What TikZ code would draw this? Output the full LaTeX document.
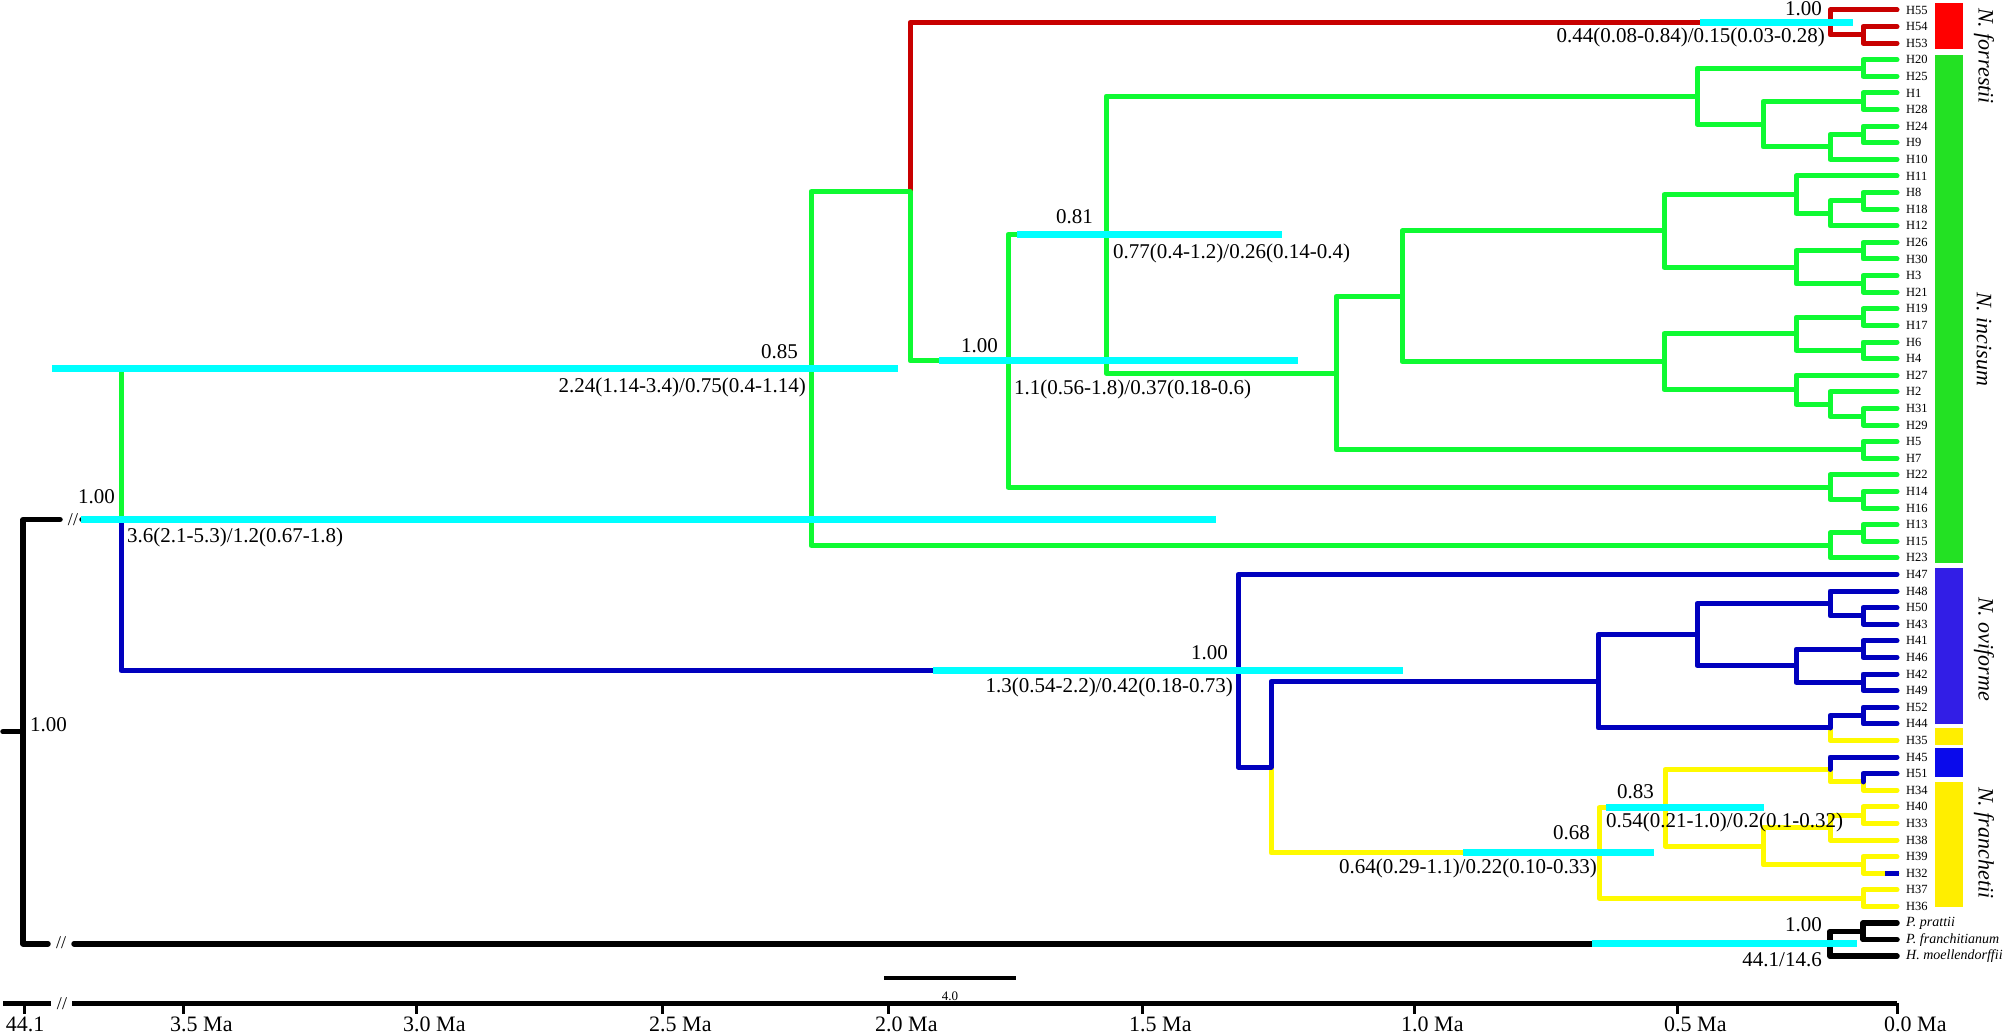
\documentclass[tikz,border=0pt]{standalone}
\usepackage{fontspec}
\setmainfont{Liberation Serif}
\definecolor{tred}{RGB}{200,0,0}
\definecolor{tgreen}{RGB}{15,250,50}
\definecolor{tblue}{RGB}{0,0,190}
\definecolor{tyellow}{RGB}{255,250,0}
\definecolor{hpdcyan}{RGB}{0,255,255}
\definecolor{bred}{RGB}{255,0,0}
\definecolor{bgreen}{RGB}{35,225,35}
\definecolor{bblue}{RGB}{50,30,230}
\definecolor{bblue2}{RGB}{10,10,235}
\definecolor{byellow}{RGB}{255,238,0}
\tikzset{
 br/.style={line width=5pt, line cap=round, line join=round},
 rb/.style={br, draw=tred},
 gb/.style={br, draw=tgreen},
 bb/.style={br, draw=tblue},
 yb/.style={br, draw=tyellow},
 kb/.style={br, draw=black, line width=5.5pt},
 hpd/.style={draw=hpdcyan, line width=7pt, line cap=butt},
 lab/.style={font=\fontsize{21}{24}\selectfont, inner sep=0pt},
 tiplab/.style={font=\fontsize{12.5}{14}\selectfont, inner sep=0pt, anchor=west},
 ogl/.style={inner sep=0pt, anchor=west, font=\fontsize{14}{16}\selectfont\itshape},
 clade/.style={font=\fontsize{22}{24}\selectfont\itshape, inner sep=0pt, rotate=-90, anchor=west},
 axl/.style={font=\fontsize{22}{24}\selectfont, inner sep=0pt},
 brk/.style={font=\fontsize{18}{20}\selectfont, inner sep=0pt},
}
\begin{document}
\begin{tikzpicture}[x=1pt,y=-1pt]
\fill[white] (0,0) rectangle (2006,1035);
\useasboundingbox (0,0) rectangle (2006,1035);

% tips
\foreach \nm [count=\i from 0] in {H55,H54,H53,H20,H25,H1,H28,H24,H9,H10,H11,H8,H18,H12,H26,H30,H3,H21,H19,H17,H6,H4,H27,H2,H31,H29,H5,H7,H22,H14,H16,H13,H15,H23,H47,H48,H50,H43,H41,H46,H42,H49,H52,H44,H35,H45,H51,H34,H40,H33,H38,H39,H32,H37,H36}{
  \coordinate (\nm) at (1897,{10+16.6*\i});
  \node[tiplab] (\nm-l) at (1906,{10+16.6*\i}) {\nm};
}
\coordinate (Pp) at (1897,923.0);
\coordinate (Pf) at (1897,939.6);
\coordinate (Hm) at (1897,956.2);
\node[ogl] (Pp-l) at (1906,923.0) {P. prattii};
\node[ogl] (Pf-l) at (1906,939.6) {P. franchitianum};
\node[ogl] (Hm-l) at (1906,956.2) {H. moellendorffii};

% internal nodes
\coordinate (f2) at (1863,34.9);
\coordinate (f1) at (1830,22.45);
\coordinate (c1) at (1863,68.1);
\coordinate (c2) at (1863,101.3);
\coordinate (c3) at (1863,134.5);
\coordinate (c4) at (1830,146.95);
\coordinate (c5) at (1763,124.1);
\coordinate (c6) at (1697,96.1);
\coordinate (d1) at (1863,200.9);
\coordinate (d2) at (1830,213.35);
\coordinate (d3) at (1796,194.7);
\coordinate (d4) at (1863,250.7);
\coordinate (d5) at (1863,283.9);
\coordinate (d6) at (1796,267.3);
\coordinate (d7) at (1664,231.0);
\coordinate (e1) at (1863,317.1);
\coordinate (e2) at (1863,350.3);
\coordinate (e3) at (1796,333.7);
\coordinate (e4) at (1863,416.7);
\coordinate (e5) at (1830,404.25);
\coordinate (e6) at (1796,389.7);
\coordinate (e7) at (1664,361.7);
\coordinate (nE) at (1402,296.35);
\coordinate (g1) at (1863,449.9);
\coordinate (nD) at (1336,373.1);
\coordinate (nB) at (1106,234.6);
\coordinate (h1) at (1863,499.7);
\coordinate (h2) at (1830,487.25);
\coordinate (nA) at (1008,360.9);
\coordinate (nF) at (910,191.7);
\coordinate (i1) at (1863,532.9);
\coordinate (i2) at (1830,545.35);
\coordinate (nG) at (811,368.5);
\coordinate (j1) at (1863,615.9);
\coordinate (j2) at (1830,603.45);
\coordinate (j3) at (1863,649.1);
\coordinate (j4) at (1863,682.3);
\coordinate (j5) at (1796,665.7);
\coordinate (j6) at (1697,634.6);
\coordinate (k1) at (1863,715.5);
\coordinate (k2) at (1830,727.95);
\coordinate (j7) at (1598,681.3);
\coordinate (m1) at (1863,781.9);
\coordinate (m2) at (1830,769.45);
\coordinate (n1) at (1863,815.1);
\coordinate (n2) at (1830,827.55);
\coordinate (n3) at (1863,864.9);
\coordinate (n4) at (1763,846.2);
\coordinate (n5) at (1665,807.8);
\coordinate (n6) at (1863,898.1);
\coordinate (n7) at (1599,852.95);
\coordinate (nK) at (1271,767.1);
\coordinate (nM) at (1238,670.75);
\coordinate (nR) at (121,519.6);
\coordinate (o1) at (1863,931.3);
\coordinate (o2) at (1830,943.75);
\coordinate (root) at (23,731.7);
\coordinate (stub) at (3,731.7);
\coordinate (bk1) at (60,519.6);
\coordinate (bk1b) at (82,519.6);
\coordinate (bk2) at (48,943.75);
\coordinate (bk2b) at (74,943.75);
\coordinate (H32b) at (1885,873.2);

% branches
\foreach \p/\c in {nF/f1, f1/H55, f1/f2, f2/H54, f2/H53}
  \draw[rb] (\p) |- (\c);
\foreach \p/\c in {nR/nG, nG/nF, nG/i2, i2/i1, i2/H23, i1/H13, i1/H15, nF/nA, nA/nB, nA/h2, h2/H22, h2/h1, h1/H14, h1/H16, nB/c6, nB/nD, c6/c1, c6/c5, c1/H20, c1/H25, c5/c2, c5/c4, c2/H1, c2/H28, c4/c3, c4/H10, c3/H24, c3/H9, nD/nE, nD/g1, g1/H5, g1/H7, nE/d7, nE/e7, d7/d3, d7/d6, d3/H11, d3/d2, d2/d1, d2/H12, d1/H8, d1/H18, d6/d4, d6/d5, d4/H26, d4/H30, d5/H3, d5/H21, e7/e3, e7/e6, e3/e1, e3/e2, e1/H19, e1/H17, e2/H6, e2/H4, e6/H27, e6/e5, e5/H2, e5/e4, e4/H31, e4/H29}
  \draw[gb] (\p) |- (\c);
\foreach \p/\c in {nK/n7, n7/n5, n7/n6, n6/H37, n6/H36, n5/m2, m2/m1, m1/H34, n5/n4, n4/n2, n4/n3, n2/n1, n2/H38, n1/H40, n1/H33, n3/H39, n3/H32, k2/H35}
  \draw[yb] (\p) |- (\c);
\foreach \p/\c in {nR/nM, nM/H47, nM/nK, nK/j7, j7/j6, j7/k2, j6/j2, j6/j5, j2/H48, j2/j1, j1/H50, j1/H43, j5/j3, j5/j4, j3/H41, j3/H46, j4/H42, j4/H49, k2/k1, k1/H52, k1/H44, m2/H45, m1/H51}
  \draw[bb] (\p) |- (\c);
\draw[bb, line cap=butt] (H32b) -- ++(14,0);
\foreach \p/\c in {o2/o1, o2/Hm, o1/Pp, o1/Pf}
  \draw[kb] (\p) |- (\c);
\draw[kb] (root) |- (bk1);
\draw[kb] (bk1b) -- (nR);
\draw[kb] (root) |- (bk2);
\draw[kb] (bk2b) -- (o2);
\draw[kb] (stub) -- (root);
\node[brk] (brk1) at (73,520) {//};
\node[brk] (brk2) at (61,943) {//};

% HPD bars
\draw[hpd] (81,519.6) -- (1216,519.6);
\draw[hpd] (52,368.5) -- (898,368.5);
\draw[hpd] (939,360.9) -- (1298,360.9);
\draw[hpd] (1017,234.6) -- (1282,234.6);
\draw[hpd] (1700,22.45) -- (1853,22.45);
\draw[hpd] (933,670.75) -- (1403,670.75);
\draw[hpd] (1463,852.95) -- (1654,852.95);
\draw[hpd] (1606,807.8) -- (1764,807.8);
\draw[hpd] (1592,943.75) -- (1857,943.75);

% node labels
\node[lab, anchor=west] (r0l) at (30,725) {1.00};
\node[lab, anchor=east] (p1) at (115,497) {1.00};
\node[lab, anchor=west] (a1) at (127,537) {3.6(2.1-5.3)/1.2(0.67-1.8)};
\node[lab, anchor=east] (p2) at (798,352) {0.85};
\node[lab, anchor=east] (a2) at (806,387) {2.24(1.14-3.4)/0.75(0.4-1.14)};
\node[lab, anchor=east] (p3) at (998,346) {1.00};
\node[lab, anchor=west] (a3) at (1014,389) {1.1(0.56-1.8)/0.37(0.18-0.6)};
\node[lab, anchor=east] (p4) at (1093,217) {0.81};
\node[lab, anchor=west] (a4) at (1113,253) {0.77(0.4-1.2)/0.26(0.14-0.4)};
\node[lab, anchor=east] (p5) at (1822,9) {1.00};
\node[lab, anchor=east] (a5) at (1825,37) {0.44(0.08-0.84)/0.15(0.03-0.28)};
\node[lab, anchor=east] (p6) at (1228,653) {1.00};
\node[lab, anchor=east] (a6) at (1233,687) {1.3(0.54-2.2)/0.42(0.18-0.73)};
\node[lab, anchor=east] (p7) at (1590,833) {0.68};
\node[lab, anchor=east] (a7) at (1597,868) {0.64(0.29-1.1)/0.22(0.10-0.33)};
\node[lab, anchor=east] (p8) at (1654,792) {0.83};
\node[lab, anchor=west] (a8) at (1606,822) {0.54(0.21-1.0)/0.2(0.1-0.32)};
\node[lab, anchor=east] (p9) at (1822,925) {1.00};
\node[lab, anchor=east] (a9) at (1822,960) {44.1/14.6};

% clade bars
\fill[bred] (1935,3) rectangle (1963,49);
\fill[bgreen] (1935,55) rectangle (1963,563);
\fill[bblue] (1935,568) rectangle (1963,724);
\fill[byellow] (1935,728) rectangle (1963,745);
\fill[bblue2] (1935,748) rectangle (1963,777);
\fill[byellow] (1935,782) rectangle (1963,907);
\node[clade] (cl1) at (1984,8) {N. forrestii};
\node[clade] (cl2) at (1984,292) {N. incisum};
\node[clade] (cl3) at (1984,597) {N. oviforme};
\node[clade] (cl4) at (1984,787) {N. franchetii};

% scale bar
\coordinate (sb1) at (884,978);
\coordinate (sb2) at (1016,978);
\draw[line width=3.5pt] (sb1) -- (sb2);
\node[font=\fontsize{13}{14}\selectfont, inner sep=0pt] (sbl) at (950,996) {4.0};

% axis
\coordinate (ax0) at (3,1003);
\coordinate (ax1) at (51,1003);
\coordinate (ax2) at (72,1003);
\coordinate (ax3) at (1897,1003);
\draw[line width=5pt] (ax0) -- (ax1);
\draw[line width=5pt] (ax2) -- (ax3);
\node[brk] (brk3) at (62,1004) {//};
\foreach \x in {24,183,416,662,888,1142,1414,1677,1897}
  \draw[line width=3pt] (\x,1003) -- (\x,1014);
\node[axl] (t0) at (25,1024) {44.1};
\foreach \x/\lbl in {183/3.5,416/3.0,662/2.5,888/2.0,1142/1.5,1414/1.0,1677/0.5,1897/0.0}
  \node[axl, anchor=west] at ({\x-13},1024) {\lbl{} Ma};
\end{tikzpicture}
\end{document}
